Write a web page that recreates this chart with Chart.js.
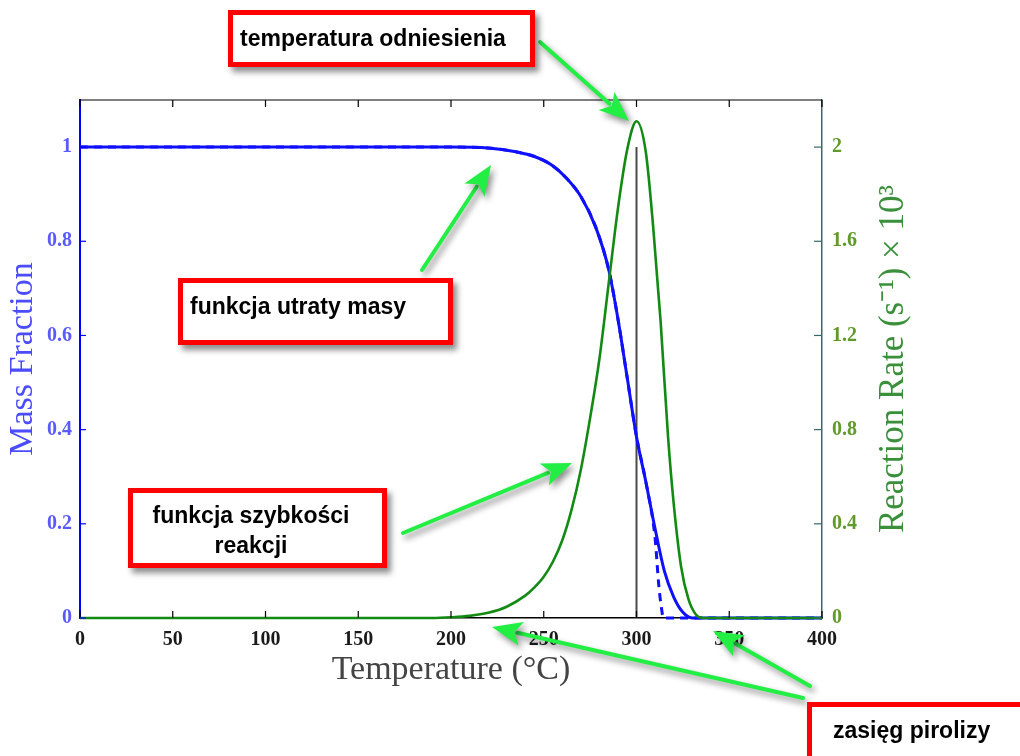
<!DOCTYPE html>
<html>
<head>
<meta charset="utf-8">
<script src="https://cdn.jsdelivr.net/npm/chart.js@4"></script>
<style>
  body { margin: 0; background: #fff; }
  #wrap { position: relative; width: 1020px; height: 756px; overflow: hidden; }
  .box {
    position: absolute; box-sizing: border-box;
    border: 5px solid #ff0000; background: #fff;
    box-shadow: 4px 5px 6px rgba(0, 0, 0, 0.45);
    font: bold 23px "Liberation Sans", Arial, sans-serif; color: #000;
    line-height: 26px; white-space: nowrap;
  }
</style>
</head>
<body>
<div id="wrap">
  <canvas id="chart" width="1020" height="756"></canvas>
  <div class="box" style="left:228px;top:10px;width:307px;height:57px;padding:10px 0 0 7px">temperatura odniesienia</div>
  <div class="box" style="left:178px;top:278px;width:275px;height:67px;padding:10px 0 0 7px">funkcja utraty masy</div>
  <div class="box" style="left:128px;top:488px;width:259px;height:80px;padding:7px 13px 0 0;text-align:center;line-height:30px">funkcja szybkości<br>reakcji</div>
  <div class="box" style="left:807px;top:702px;width:240px;height:70px;padding:10px 0 0 21px">zasięg pirolizy</div>
</div>
<script>
const xTicks = [0, 50, 100, 150, 200, 250, 300, 350, 400]
const massTicks = [0, 0.2, 0.4, 0.6, 0.8, 1]
const rateTicks = [0, 0.4, 0.8, 1.2, 1.6, 2]

// mass fraction (solid)
const massTemp = [0, 100, 200, 220, 235, 245, 255, 262, 270, 278, 285, 290, 295, 300, 305, 310, 315, 320, 325, 330, 400]
const massFrac = [1, 1, 1, 0.998, 0.99, 0.98, 0.96, 0.935, 0.895, 0.83, 0.74, 0.635, 0.51, 0.385, 0.29, 0.19, 0.1, 0.045, 0.012, 0, 0]

// mass fraction (dashed), hidden under the solid one until ~310
const dashTemp = [0, 100, 200, 220, 235, 245, 255, 262, 270, 278, 285, 290, 295, 300, 305, 310, 312, 313.5, 314.5, 400]
const dashFrac = [1, 1, 1, 0.998, 0.99, 0.98, 0.96, 0.935, 0.895, 0.83, 0.74, 0.635, 0.51, 0.385, 0.29, 0.17, 0.07, 0.02, 0, 0]

// reaction rate x 10^3
const rateTemp = [0, 190, 200, 210, 220, 230, 240, 245, 250, 255, 260, 265, 270, 275, 280, 285, 290, 295, 300, 305, 309, 313, 317, 320, 324, 328, 332, 336, 400]
const rateVal = [0, 0, 0.003, 0.009, 0.022, 0.048, 0.095, 0.13, 0.175, 0.24, 0.33, 0.46, 0.63, 0.85, 1.1, 1.42, 1.74, 1.99, 2.11, 1.98, 1.66, 1.26, 0.77, 0.49, 0.22, 0.08, 0.015, 0, 0]

// reference temperature marker
const refTemp = [300, 300]
const refVal = [0, 1]

const pts = (xs, ys) => xs.map((x, i) => ({x: x, y: ys[i]}))

const serif = '"Liberation Serif", "Times New Roman", serif'

// annotation arrows [x1, y1, x2, y2] in page pixels
const arrows = [
   [540, 42, 629, 121],
   [422, 270, 491, 165],
   [403, 533, 572, 463],
   [803, 698, 492, 627],
   [810, 686, 713, 631],
]

function arrow(ctx, x1, y1, x2, y2) {
   const ang = Math.atan2(y2 - y1, x2 - x1)
   const head = 30, half = 12
   const bx = x2 - head * Math.cos(ang), by = y2 - head * Math.sin(ang)
   ctx.beginPath()
   ctx.moveTo(x1, y1)
   ctx.lineTo(bx + 4 * Math.cos(ang), by + 4 * Math.sin(ang))
   ctx.stroke()
   ctx.beginPath()
   ctx.moveTo(x2, y2)
   ctx.lineTo(bx + half * Math.sin(ang), by - half * Math.cos(ang))
   ctx.lineTo(bx + 7 * Math.cos(ang), by + 7 * Math.sin(ang))
   ctx.lineTo(bx - half * Math.sin(ang), by + half * Math.cos(ang))
   ctx.closePath()
   ctx.fill()
}

const frame = {
   id: "frame",
   afterDraw(chart) {
      const {ctx, chartArea: a, scales} = chart
      ctx.save()
      // top border
      ctx.strokeStyle = "#000"
      ctx.lineWidth = 1.2
      ctx.beginPath()
      ctx.moveTo(a.left, a.top)
      ctx.lineTo(a.right, a.top)
      ctx.stroke()
      // inward ticks
      xTicks.forEach(v => {
         const px = scales.x.getPixelForValue(v)
         ctx.beginPath()
         ctx.moveTo(px, a.top); ctx.lineTo(px, a.top + 7)
         ctx.moveTo(px, a.bottom); ctx.lineTo(px, a.bottom - 7)
         ctx.stroke()
      })
      ctx.strokeStyle = "#0000ff"
      massTicks.forEach(v => {
         const py = scales.y.getPixelForValue(v)
         ctx.beginPath()
         ctx.moveTo(a.left, py); ctx.lineTo(a.left + 6, py)
         ctx.stroke()
      })
      ctx.strokeStyle = "#336b6b"
      rateTicks.forEach(v => {
         const py = scales.y1.getPixelForValue(v)
         ctx.beginPath()
         ctx.moveTo(a.right, py); ctx.lineTo(a.right - 8, py)
         ctx.stroke()
      })
      // right axis title, reading bottom to top
      ctx.translate(a.right + 72, (a.top + a.bottom) / 2)
      ctx.rotate(-Math.PI / 2)
      ctx.font = "35px " + serif
      ctx.fillStyle = "#3a8f3a"
      ctx.textAlign = "center"
      ctx.textBaseline = "middle"
      ctx.fillText("Reaction Rate (s\u207B\u00B9) \u00D7 10\u00B3", 0, 0)
      ctx.restore()

      // green annotation arrows
      ctx.save()
      ctx.strokeStyle = "#22ee44"
      ctx.fillStyle = "#22ee44"
      ctx.lineWidth = 4
      ctx.lineCap = "round"
      ctx.shadowColor = "rgba(0,0,0,0.45)"
      ctx.shadowBlur = 6
      ctx.shadowOffsetX = 3
      ctx.shadowOffsetY = 4
      arrows.forEach(r => arrow(ctx, r[0], r[1], r[2], r[3]))
      ctx.restore()
   }
}

new Chart(document.getElementById("chart"), {
   type: "line",
   data: {
      datasets: [{
         data: pts(rateTemp, rateVal),
         yAxisID: "y1",
         borderColor: "#138a13",
         borderWidth: 2.6,
         order: 0,
      }, {
         data: pts(massTemp, massFrac),
         yAxisID: "y",
         borderColor: "#1010ff",
         borderWidth: 3,
         order: 1,
      }, {
         data: pts(dashTemp, dashFrac),
         yAxisID: "y",
         borderColor: "#1010ff",
         borderWidth: 3,
         borderDash: [8, 6],
         order: 2,
      }, {
         data: pts(refTemp, refVal),
         yAxisID: "y",
         borderColor: "#4a4a4a",
         borderWidth: 2,
         order: 3,
         cubicInterpolationMode: "default",
      }]
   },
   options: {
      responsive: false,
      animation: false,
      layout: {padding: {top: 100, left: 0, right: 0, bottom: 0}},
      elements: {
         point: {radius: 0},
         line: {cubicInterpolationMode: "monotone", fill: false},
      },
      datasets: {line: {clip: 6}},
      plugins: {
         legend: {display: false},
         tooltip: {enabled: false},
      },
      scales: {
         x: {
            type: "linear",
            position: "bottom",
            min: 0,
            max: 400,
            afterBuildTicks: s => { s.ticks = xTicks.map(v => ({value: v})) },
            afterFit: s => { s.height = 138 },
            grid: {display: false, drawTicks: false},
            border: {color: "#000", width: 1.5},
            ticks: {
               padding: 10,
               color: "#1a1a1a",
               maxRotation: 0,
               autoSkip: false,
               font: {family: serif, size: 20, weight: "bold"},
            },
            title: {
               display: true,
               text: "Temperature (\u00B0C)",
               color: "#444",
               font: {family: serif, size: 34},
               padding: {top: 0, bottom: 66},
            }
         },
         y: {
            position: "left",
            min: 0,
            max: 1.1,
            afterBuildTicks: s => { s.ticks = massTicks.map(v => ({value: v})) },
            afterFit: s => { s.width = 80 },
            grid: {display: false, drawTicks: false},
            border: {color: "#0000ff", width: 2},
            ticks: {
               padding: 8,
               color: "#5a5aff",
               callback: v => String(v),
               font: {family: serif, size: 20, weight: "bold"},
            },
            title: {
               display: true,
               text: "Mass Fraction",
               color: "#4b4bff",
               font: {family: serif, size: 34},
               padding: {top: 3, bottom: 0},
            }
         },
         y1: {
            position: "right",
            min: 0,
            max: 2.2,
            afterBuildTicks: s => { s.ticks = rateTicks.map(v => ({value: v})) },
            afterFit: s => { s.width = 198 },
            grid: {display: false, drawTicks: false},
            border: {color: "#336b6b", width: 1.5},
            ticks: {
               padding: 10,
               color: "#5f9a2a",
               callback: v => String(v),
               font: {family: serif, size: 20, weight: "bold"},
            },
         }
      }
   },
   plugins: [frame]
})
</script>
</body>
</html>
